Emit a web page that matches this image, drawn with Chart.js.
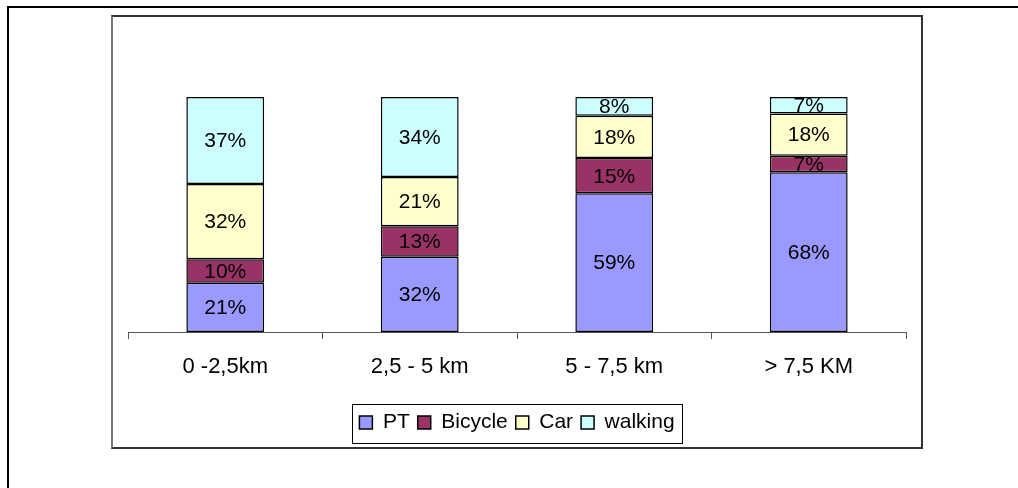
<!DOCTYPE html>
<html>
<head>
<meta charset="utf-8">
<script src="https://cdn.jsdelivr.net/npm/chart.js@4/dist/chart.umd.min.js"></script>
<style>
  html, body { margin: 0; padding: 0; background: #fff; width: 1018px; height: 488px; overflow: hidden; }
  #outerTop { position: absolute; left: 7px; top: 6px; width: 1011px; height: 2px; background: #000; }
  #outerLeft { position: absolute; left: 7px; top: 6px; width: 2px; height: 482px; background: #000; }
  #box { position: absolute; left: 111px; top: 15px; width: 812px; height: 434px; box-sizing: border-box;
         border: 2px solid #333; border-left-color: #777; background: #fff; }
  #wrap { position: absolute; left: 0; top: 0; width: 808px; height: 430px; }
</style>
</head>
<body>
<div id="outerTop"></div>
<div id="outerLeft"></div>
<div id="box"><div id="wrap"><canvas id="c"></canvas></div></div>
<script>
const categories = ["0 -2,5km", "2,5 - 5 km", "5 - 7,5 km", "> 7,5 KM"];
const seriesNames = ["PT", "Bicycle", "Car", "walking"];
const ptValues = [21, 32, 59, 68];
const bicycleValues = [10, 13, 15, 7];
const carValues = [32, 21, 18, 18];
const walkingValues = [37, 34, 8, 7];
const seriesColors = ["#9999FF", "#993366", "#FFFFCC", "#CCFFFF"];

Chart.defaults.font.family = "'Liberation Sans', Arial, sans-serif";
Chart.defaults.font.size = 21;
Chart.defaults.color = "#000";

const labelPlugin = {
  id: "segLabels",
  afterDatasetsDraw(chart) {
    const ctx = chart.ctx;
    ctx.save();
    ctx.font = "21px 'Liberation Sans', Arial, sans-serif";
    ctx.fillStyle = "#000";
    ctx.textAlign = "center";
    ctx.textBaseline = "middle";
    chart.data.datasets.forEach((ds, i) => {
      const meta = chart.getDatasetMeta(i);
      meta.data.forEach((el, j) => {
        const v = ds.data[j];
        const cy = (el.y + el.base) / 2;
        ctx.fillText(v + "%", el.x, cy + 1);
      });
    });
    ctx.restore();
  }
};

const legendBoxPlugin = {
  id: "legendBox",
  afterDraw(chart) {
    const lg = chart.legend;
    if (!lg || !lg.legendHitBoxes || !lg.legendHitBoxes.length) return;
    const hb = lg.legendHitBoxes;
    let minL = Infinity, maxR = -Infinity, minT = Infinity, maxB = -Infinity;
    hb.forEach(h => {
      minL = Math.min(minL, h.left);
      maxR = Math.max(maxR, h.left + h.width);
      minT = Math.min(minT, h.top);
      maxB = Math.max(maxB, h.top + h.height);
    });
    const cy = (minT + maxB) / 2;
    const ctx = chart.ctx;
    ctx.save();
    ctx.strokeStyle = "#000";
    ctx.lineWidth = 1;
    ctx.strokeRect(Math.round(minL - 7) + 0.5, Math.round(cy - 19) + 0.5, Math.round(maxR - minL + 15), 39);
    ctx.restore();
  }
};

function makeDataset(label, data, color) {
  return {
    label: label,
    data: data,
    backgroundColor: color,
    borderColor: "#000",
    borderWidth: 1.5,
    borderSkipped: false,
    barPercentage: 0.4,
    categoryPercentage: 1.0
  };
}

new Chart(document.getElementById("c"), {
  type: "bar",
  data: {
    labels: categories,
    datasets: [
      makeDataset(seriesNames[0], ptValues, seriesColors[0]),
      makeDataset(seriesNames[1], bicycleValues, seriesColors[1]),
      makeDataset(seriesNames[2], carValues, seriesColors[2]),
      makeDataset(seriesNames[3], walkingValues, seriesColors[3])
    ]
  },
  options: {
    responsive: true,
    maintainAspectRatio: false,
    animation: false,
    layout: { padding: { left: 15, right: 15, top: 80, bottom: 4 } },
    scales: {
      x: {
        stacked: true,
        grid: { display: true, drawOnChartArea: false, drawTicks: true, tickLength: 7, color: "#555", offset: true },
        border: { display: true, color: "#555", width: 1 },
        ticks: { padding: 15, color: "#000", font: { size: 22 } },
        afterFit(scale) { scale.height = 72; }
      },
      y: {
        stacked: true,
        display: false,
        min: 0,
        max: 100
      }
    },
    plugins: {
      legend: {
        display: true,
        position: "bottom",
        labels: { boxWidth: 13, boxHeight: 13, padding: 8, color: "#000", font: { size: 21 } }
      },
      tooltip: { enabled: false }
    }
  },
  plugins: [labelPlugin, legendBoxPlugin]
});
</script>
</body>
</html>
